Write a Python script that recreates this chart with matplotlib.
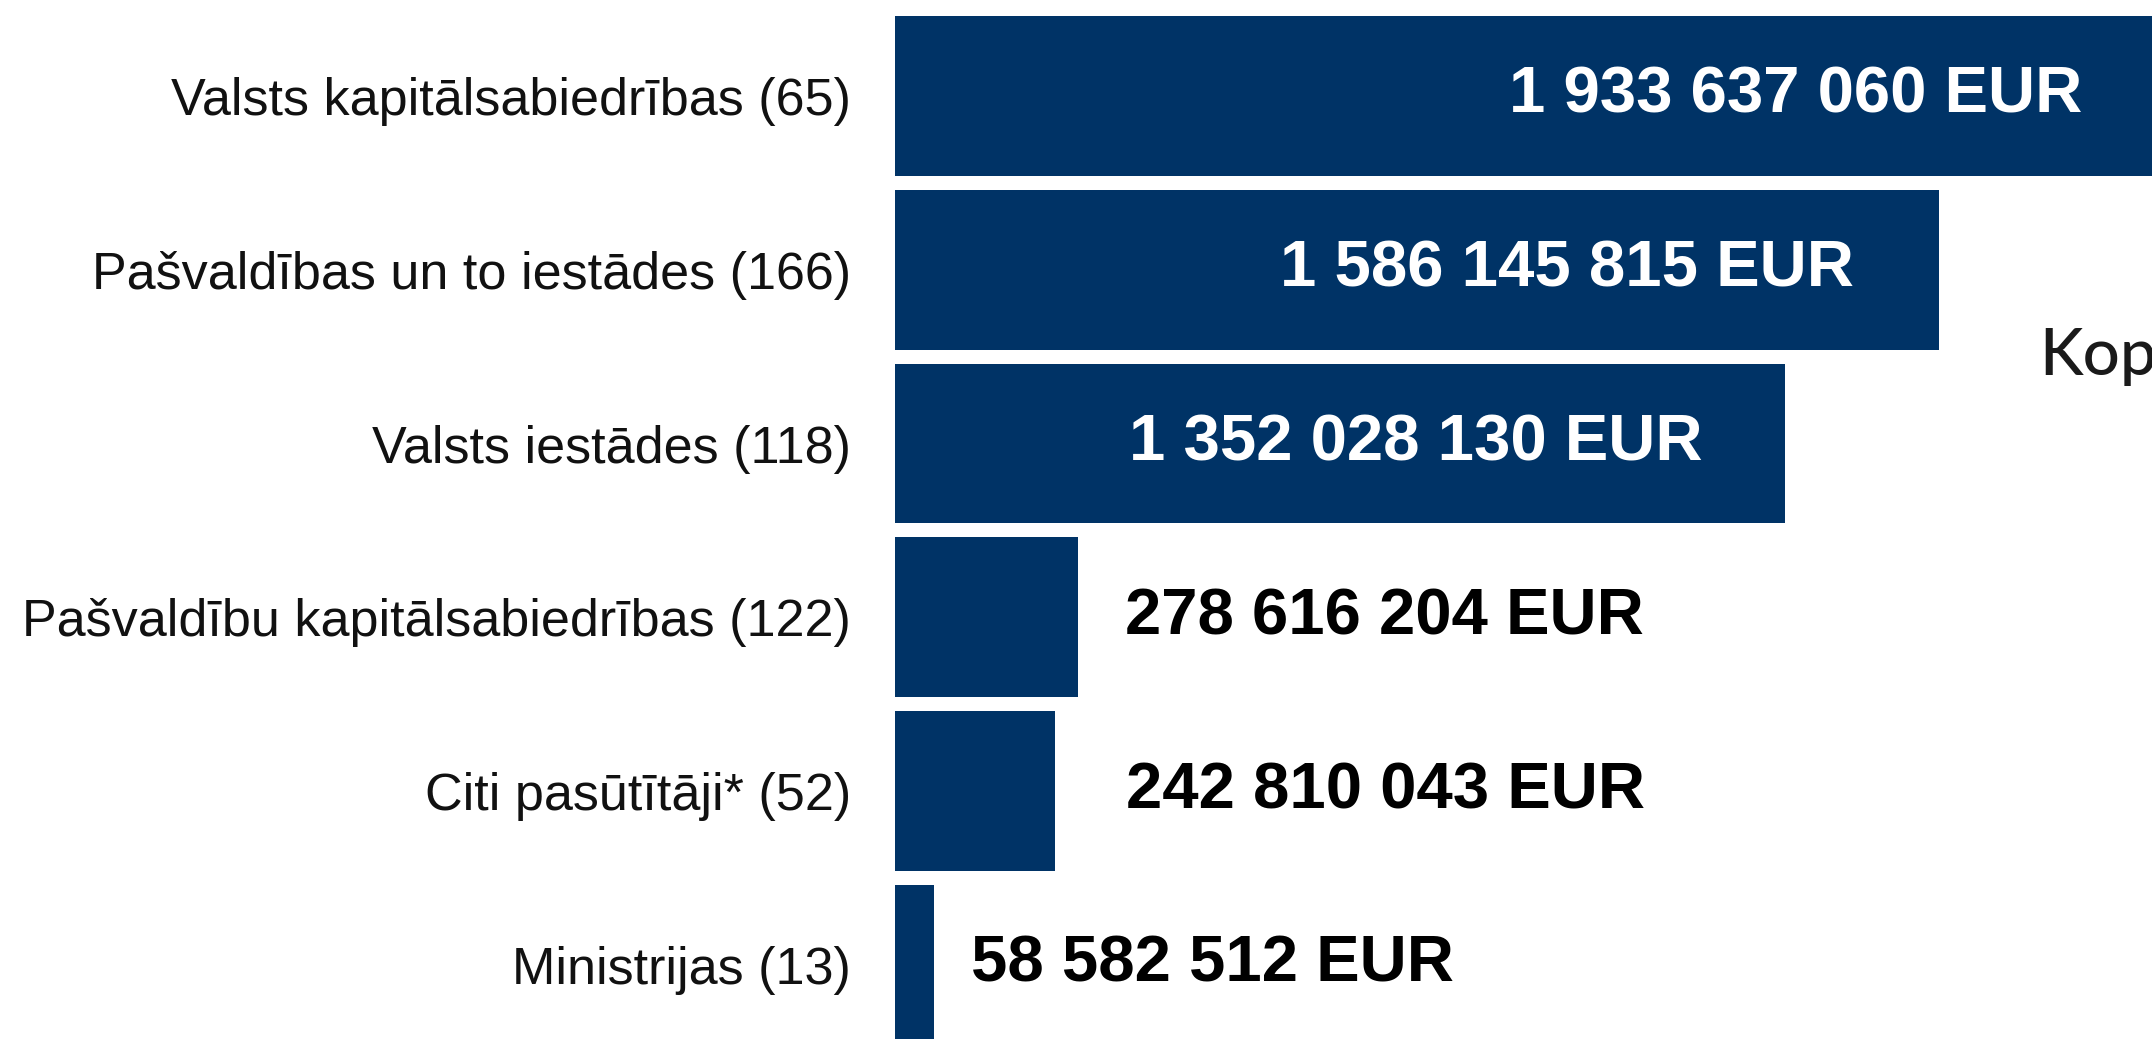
import matplotlib.pyplot as plt

# data
categories = [
    "Valsts kapitālsabiedrības (65)",
    "Pašvaldības un to iestādes (166)",
    "Valsts iestādes (118)",
    "Pašvaldību kapitālsabiedrības (122)",
    "Citi pasūtītāji* (52)",
    "Ministrijas (13)",
]
values = [1933637060, 1586145815, 1352028130, 278616204, 242810043, 58582512]
value_labels = [
    "1 933 637 060 EUR",
    "1 586 145 815 EUR",
    "1 352 028 130 EUR",
    "278 616 204 EUR",
    "242 810 043 EUR",
    "58 582 512 EUR",
]
total_label = "Kopā"

# layout: labels inside big bars, outside for small ones (pixel offsets)
inside = [True, True, True, False, False, False]
offset_px = [-85, -85, -82, 47, 71, 37]

bar_color = "#003366"
dpi = 100
fig = plt.figure(figsize=(21.52, 10.39), dpi=dpi)
ax = fig.add_axes([895 / 2152, 0, 1 - 895 / 2152, 1])

y = list(range(len(values)))
ax.barh(y, values, height=0.92, color=bar_color)
ax.set_xlim(0, 1910e6)
ax.set_ylim(5.426, -0.552)

ax.set_yticks(y, categories, fontsize=37.5, color="#111111",
              family=["Liberation Sans", "DejaVu Sans"])
ax.tick_params(axis="y", length=0, pad=44 * 72 / dpi)
ax.set_xticks([])
for s in ax.spines.values():
    s.set_visible(False)

for i, (v, lab) in enumerate(zip(values, value_labels)):
    ax.annotate(lab, (v, i), xytext=(offset_px[i] * 72 / dpi, 0),
                textcoords="offset points", annotation_clip=False,
                ha="right" if inside[i] else "left", va="center",
                fontsize=47, fontweight="bold",
                color="white" if inside[i] else "black",
                family=["Liberation Sans", "DejaVu Sans"])

# total label, cut off by the right edge as in the original
fig.text(2039 / 2152, (1039 - 375) / 1039, total_label, fontsize=47,
         color="#1a1a1a", va="baseline", ha="left", fontweight="medium",
         family=["Lato", "DejaVu Sans"])

fig.savefig("out.png", dpi=dpi)
